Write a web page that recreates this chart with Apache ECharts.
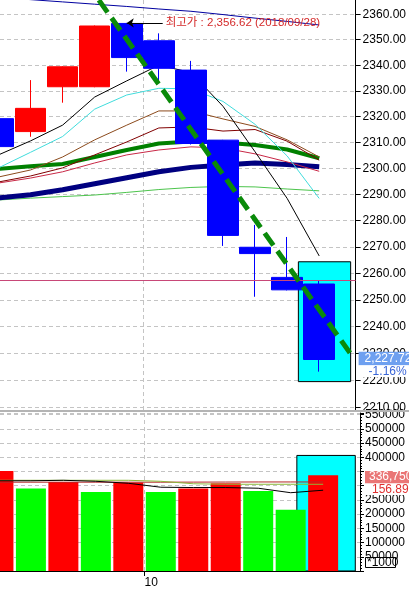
<!DOCTYPE html>
<html><head><meta charset="utf-8">
<script src="https://cdn.jsdelivr.net/npm/echarts@6/dist/echarts.min.js"></script>
<style>html,body{margin:0;padding:0;background:#fff;overflow:hidden}#c{width:409px;height:589px}</style>
</head><body><div id="c"></div>
<script>
// ---- data ----
const dates  = ['2018/09/19','2018/09/20','2018/09/21','2018/09/27','2018/09/28','2018/10/01','2018/10/02','2018/10/04','2018/10/05','2018/10/08','2018/10/10'];
const opens  = [2319.2, 2314.2, 2331.6, 2331.6, 2356.4, 2349.6, 2338.1, 2310.9, 2269.9, 2258.5, 2256.0];
const closes = [2308.4, 2323.2, 2339.4, 2355.4, 2343.0, 2338.8, 2309.6, 2274.4, 2267.5, 2253.8, 2227.72];
const lows   = [2306.0, 2312.2, 2325.4, 2331.4, 2337.5, 2333.1, 2309.2, 2270.4, 2251.2, 2253.6, 2223.2];
const highs  = [2320.5, 2334.2, 2339.6, 2355.6, 2356.62, 2352.5, 2341.7, 2311.0, 2278.4, 2273.8, 2257.3];
const volumes = [351700, 290200, 313300, 278300, 311200, 278300, 290200, 308700, 281800, 215400, 336750];

const ma5       = [2305.2, 2310.6, 2316.7, 2327.6, 2333.9, 2340.0, 2337.2, 2324.0, 2306.4, 2288.5, 2266.6];
const maCyan    = [2300.2, 2306.2, 2312.3, 2322.9, 2328.4, 2331.0, 2330.8, 2325.9, 2317.0, 2304.8, 2288.5];
const maBrown   = [2296.7, 2299.4, 2304.4, 2311.0, 2316.7, 2322.2, 2322.2, 2319.1, 2316.2, 2311.0, 2304.4];
const maMaroon  = [2294.8, 2297.1, 2300.2, 2305.2, 2310.2, 2315.6, 2316.0, 2314.4, 2315.0, 2310.5, 2303.2];
const maCrimson = [2294.4, 2296.3, 2298.7, 2302.1, 2305.2, 2307.1, 2308.3, 2307.9, 2305.6, 2302.5, 2298.9];
const maGreen   = [2299.8, 2300.8, 2301.7, 2304.4, 2307.1, 2309.6, 2310.4, 2310.0, 2309.0, 2307.3, 2303.9];
const maNavy    = [2288.7, 2289.9, 2291.8, 2294.1, 2296.4, 2298.7, 2300.4, 2301.3, 2302.1, 2301.5, 2300.6];
const maLime    = [2287.9, 2288.6, 2289.2, 2289.8, 2290.8, 2291.9, 2292.7, 2293.1, 2292.9, 2292.1, 2291.4];
const maBlue    = [2366.8, 2365.8, 2364.9, 2364.0, 2363.1, 2362.1, 2361.2, 2359.9, 2358.5, 2357.2, 2355.8];

const volMa5    = [317500, 317500, 319200, 315700, 308700, 294800, 293700, 293700, 291300, 275500, 284300];
const volMaGreen= [319200, 319200, 319200, 319200, 319200, 315700, 307000, 305200, 305200, 305200, 305200];
const volMaRed  = [312500, 312500, 312500, 312500, 312500, 312500, 312800, 313000, 313300, 313300, 313300];

const priceTicks = [2210,2220,2230,2240,2250,2260,2270,2280,2290,2300,2310,2320,2330,2340,2350,2360];
const priceMin = 2209.0, priceMax = 2365.65;   // log-scaled price panel
const volMax = 556000;
const refLine = 2257.5;                          // pink horizontal line
const trendX = [3.13, 11.07], trendY = [2365.6, 2228.3];   // dashed trend line
const boxPriceX = [9.35, 10.98], boxPriceY = [2219.5, 2264.4];
const boxVolX = [9.19, 10.99], boxVolY = [0, 406700];
const changePct = -1.16;
const volRatio = 156.89;
const volUnit = '*1000';

// ---- helpers ----
const L = Math.log;
const FONT = "'Liberation Sans', Arial, 'Noto Sans CJK KR', sans-serif";
const fmt = (v, d) => v.toFixed(d).replace(/\B(?=(\d{3})+(?!\d))/g, ',');
const idx = dates.map((d, i) => i);
const xMin = 0.048, xMax = 11.135;
const hiIdx = highs.indexOf(Math.max(...highs));
const monthStart = dates.findIndex((d, i) => i > 0 && d.slice(5, 7) !== dates[i - 1].slice(5, 7));
const last = dates.length - 1;

const maLine = (arr, color, width) => ({
  type: 'line', xAxisIndex: 0, yAxisIndex: 0, z: 3, symbol: 'none', silent: true,
  data: arr.map((v, i) => [i, L(v)]),
  lineStyle: { color, width }
});
const volLine = (arr, color) => ({
  type: 'line', xAxisIndex: 1, yAxisIndex: 1, z: 3, symbol: 'none', silent: true,
  data: arr.map((v, i) => [i, v]),
  lineStyle: { color, width: 1 }
});
const dash = { color: '#c4c4c4', width: 1, type: [4, 3] };

const chart = echarts.init(document.getElementById('c'), null, { renderer: 'canvas' });
chart.setOption({
  animation: false,
  backgroundColor: '#ffffff',
  grid: [
    { left: 0, right: 49, top: 0, height: 410 },
    { left: 0, right: 49, top: 413, height: 159 }
  ],
  xAxis: [
    { type: 'value', gridIndex: 0, min: xMin, max: xMax,
      axisLine: { show: false },
      axisTick: { show: false, customValues: [monthStart - 0.5] },
      axisLabel: { show: false, customValues: [monthStart - 0.5] },
      splitLine: { show: true, lineStyle: dash } },
    { type: 'value', gridIndex: 1, min: xMin, max: xMax,
      axisLine: { show: true, onZero: false, lineStyle: { color: '#000', width: 1 } },
      axisTick: { show: true, length: 5, customValues: [monthStart - 0.5], lineStyle: { color: '#000' } },
      axisLabel: { show: true, customValues: [monthStart - 0.5], align: 'left', margin: 6,
        color: '#000', fontSize: 12, fontFamily: FONT,
        formatter: v => String(parseInt(dates[Math.ceil(v)].slice(5, 7), 10)) },
      splitLine: { show: true, lineStyle: dash } }
  ],
  yAxis: [
    { type: 'value', gridIndex: 0, position: 'right', min: L(priceMin), max: L(priceMax),
      axisLine: { show: true, lineStyle: { color: '#000', width: 1 } },
      axisTick: { show: true, length: 5, customValues: priceTicks.map(L), lineStyle: { color: '#000' } },
      axisLabel: { show: true, customValues: priceTicks.map(L), margin: 7, color: '#000',
        fontSize: 12, fontFamily: FONT, formatter: v => Math.exp(v).toFixed(2) },
      splitLine: { show: true, lineStyle: dash } },
    { type: 'value', gridIndex: 1, position: 'right', min: 0, max: volMax, interval: 50000,
      axisLine: { show: true, lineStyle: { color: '#000', width: 1 } },
      axisTick: { show: true, length: 4, lineStyle: { color: '#000' } },
      minorTick: { show: true, splitNumber: 5, length: 2, lineStyle: { color: '#000' } },
      axisLabel: { show: true, margin: 5, color: '#000', fontSize: 12, fontFamily: FONT,
        formatter: v => (v === 0 || v % 50000 !== 0 || v === 300000 || v === 350000) ? '' : String(v) },
      splitLine: { show: true, lineStyle: dash } }
  ],
  series: [
    // reference line (behind everything)
    { type: 'line', xAxisIndex: 0, yAxisIndex: 0, z: 1, data: [], silent: true,
      markLine: { silent: true, symbol: 'none', precision: 10, label: { show: false },
        lineStyle: { color: '#c84878', width: 1, type: 'solid' },
        data: [{ yAxis: L(refLine) }] } },
    // highlight boxes
    { type: 'line', xAxisIndex: 0, yAxisIndex: 0, z: 2, data: [], silent: true,
      markArea: { silent: true, itemStyle: { color: '#00ffff', borderColor: '#000', borderWidth: 1 },
        data: [[{ coord: [boxPriceX[0], L(boxPriceY[1])] }, { coord: [boxPriceX[1], L(boxPriceY[0])] }]] } },
    { type: 'line', xAxisIndex: 1, yAxisIndex: 1, z: 1, data: [], silent: true,
      markArea: { silent: true, itemStyle: { color: '#00ffff', borderColor: '#000', borderWidth: 1 },
        data: [[{ coord: [boxVolX[0], boxVolY[1]] }, { coord: [boxVolX[1], boxVolY[0]] }]] } },
    // moving averages
    maLine(maLime, '#4cc44c', 1),
    maLine(maNavy, '#000080', 5),
    maLine(maGreen, '#008000', 4),
    maLine(maCrimson, '#c82846', 1),
    maLine(maMaroon, '#800000', 1),
    maLine(maBrown, '#8b4a1c', 1),
    maLine(maCyan, '#40dcdc', 1),
    maLine(ma5, '#000000', 1),
    maLine(maBlue, '#0000a0', 1),
    // candles
    { type: 'candlestick', xAxisIndex: 0, yAxisIndex: 0, z: 4, barWidth: 31, silent: true,
      encode: { x: 0, y: [1, 2, 3, 4] },
      data: idx.map(i => [i, L(opens[i]), L(closes[i]), L(lows[i]), L(highs[i])]),
      itemStyle: { color: '#ff0000', color0: '#0000ff', borderColor: '#ff0000', borderColor0: '#0000ff', borderWidth: 1 } },
    // volume bars
    { type: 'bar', xAxisIndex: 1, yAxisIndex: 1, z: 2, barWidth: 30, silent: true,
      data: idx.map(i => [i, volumes[i]]),
      itemStyle: { color: p => (p.dataIndex === 0 || volumes[p.dataIndex] >= volumes[p.dataIndex - 1]) ? '#ff0000' : '#00ff00' } },
    volLine(volMaRed, '#b42828'),
    volLine(volMaGreen, '#8cb83a'),
    volLine(volMa5, '#000000'),
    // trend line
    { type: 'line', xAxisIndex: 0, yAxisIndex: 0, z: 5, symbol: 'none', silent: true,
      data: trendX.map((x, i) => [x, L(trendY[i])]),
      lineStyle: { color: '#0a8a0a', width: 5, type: [15, 7] } },
    // highest-price annotation
    { type: 'line', xAxisIndex: 0, yAxisIndex: 0, z: 6, data: [], silent: true,
      markLine: { silent: true, symbol: ['arrow', 'none'], symbolSize: 7, precision: 10,
        lineStyle: { color: '#000', width: 1, type: 'solid' },
        label: { show: true, position: 'end', distance: 3, color: '#d42a2a', fontSize: 11.5, fontFamily: FONT,
          formatter: () => '최고가 : ' + fmt(highs[hiIdx], 2) + ' (' + dates[hiIdx] + ')' },
        data: [[{ coord: [hiIdx, L(highs[hiIdx])] }, { coord: [hiIdx + 1.12, L(highs[hiIdx])] }]] } },
    // last price labels
    { type: 'custom', xAxisIndex: 0, yAxisIndex: 0, z: 7, silent: true, clip: false,
      data: [[last, L(closes[last])]],
      renderItem: (params, api) => {
        const p = api.coord([api.value(0), api.value(1)]);
        const x0 = params.coordSys.x + params.coordSys.width;
        return { type: 'group', children: [
          { type: 'rect', shape: { x: x0 + 3, y: p[1] - 7.7, width: 60, height: 13.5 }, style: { fill: '#6ea0f0' } },
          { type: 'text', style: { x: x0 + 9, y: p[1] - 0.8, text: fmt(closes[last], 2), fill: '#ffffff', fontSize: 12, fontFamily: FONT, align: 'left', verticalAlign: 'middle' } },
          { type: 'rect', shape: { x: x0 + 3, y: p[1] + 6, width: 60, height: 11.5 }, style: { fill: '#ffffff' } },
          { type: 'text', style: { x: x0 + 13, y: p[1] + 12.5, text: changePct.toFixed(2) + '%', fill: '#3a66d8', fontSize: 12, fontFamily: FONT, align: 'left', verticalAlign: 'middle' } }
        ] };
      } },
    // last volume labels
    { type: 'custom', xAxisIndex: 1, yAxisIndex: 1, z: 7, silent: true, clip: false,
      data: [[last, volumes[last]]],
      renderItem: (params, api) => {
        const p = api.coord([api.value(0), api.value(1)]);
        const cs = params.coordSys;
        const x0 = cs.x + cs.width;
        const yb = cs.y + cs.height;
        return { type: 'group', children: [
          { type: 'rect', shape: { x: x0 + 5, y: p[1] - 4.3, width: 60, height: 12.5 }, style: { fill: '#ea7676' } },
          { type: 'text', style: { x: x0 + 9, y: p[1] + 1.8, text: fmt(volumes[last], 0), fill: '#ffffff', fontSize: 12, fontFamily: FONT, align: 'left', verticalAlign: 'middle' } },
          { type: 'rect', shape: { x: x0 + 5, y: p[1] + 8.2, width: 60, height: 11.5 }, style: { fill: '#ffffff' } },
          { type: 'text', style: { x: x0 + 12, y: p[1] + 14, text: volRatio.toFixed(2) + '%', fill: '#e03030', fontSize: 12, fontFamily: FONT, align: 'left', verticalAlign: 'middle' } },
          { type: 'rect', shape: { x: x0 + 5.5, y: yb - 13.5, width: 30, height: 10 }, style: { fill: '#ffffff', stroke: '#000', lineWidth: 1 } },
          { type: 'text', style: { x: x0 + 7, y: yb - 8.3, text: volUnit, fill: '#000', fontSize: 12, fontFamily: FONT, align: 'left', verticalAlign: 'middle' } }
        ] };
      } }
  ],
  graphic: [
    { type: 'rect', shape: { x: 0, y: 410, width: 409, height: 2 }, style: { fill: '#b4b4b4' }, z: 10 }
  ]
});
</script></body></html>
